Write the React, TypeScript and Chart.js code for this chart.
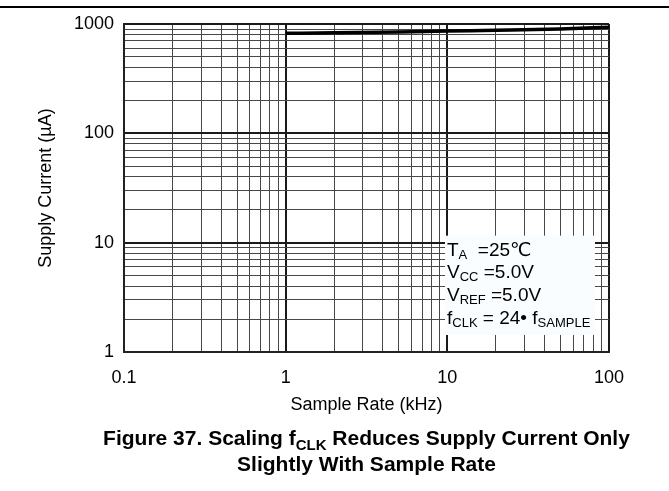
import React, { useEffect, useRef } from 'react';
import { Chart, registerables } from 'chart.js';

Chart.register(...registerables);

// ---- data ----
const sampleRateKHz = [1, 2, 5, 10, 20, 50, 100];
const supplyCurrentUA = [822, 830, 845, 862, 876, 900, 935];

const xTickValues = [
  0.1, 0.2, 0.3, 0.4, 0.5, 0.6, 0.7, 0.8, 0.9,
  1, 2, 3, 4, 5, 6, 7, 8, 9,
  10, 20, 30, 40, 50, 60, 70, 80, 90,
  100,
];
const yTickValues = [
  1, 2, 3, 4, 5, 6, 7, 8, 9,
  10, 20, 30, 40, 50, 60, 70, 80, 90,
  100, 200, 300, 400, 500, 600, 700, 800, 900,
  1000,
];
const xTickLabels = ['0.1', '1', '10', '100'];
const yTickLabels = ['1', '10', '100', '1000'];

const xTitle = 'Sample Rate (kHz)';
const yTitle = 'Supply Current (µA)';

type Seg = { t: string; sub?: boolean };
const conditionLines: Seg[][] = [
  [{ t: 'T' }, { t: 'A', sub: true }, { t: '  =25℃' }],
  [{ t: 'V' }, { t: 'CC', sub: true }, { t: ' =5.0V' }],
  [{ t: 'V' }, { t: 'REF', sub: true }, { t: ' =5.0V' }],
  [{ t: 'f' }, { t: 'CLK', sub: true }, { t: ' = 24• f' }, { t: 'SAMPLE', sub: true }],
];
const captionLines: Seg[][] = [
  [{ t: 'Figure 37. Scaling f' }, { t: 'CLK', sub: true }, { t: ' Reduces Supply Current Only' }],
  [{ t: 'Slightly With Sample Rate' }],
];

const FONT = '"Liberation Sans", Arial, "DejaVu Sans", sans-serif';

const isDecade = (v: number | undefined) => {
  if (v === undefined || v <= 0) return false;
  const l = Math.log10(v);
  return Math.abs(l - Math.round(l)) < 1e-9;
};

function segWidth(ctx: CanvasRenderingContext2D, segs: Seg[], main: string, sub: string) {
  let w = 0;
  for (const s of segs) {
    ctx.font = s.sub ? sub : main;
    w += ctx.measureText(s.t).width;
  }
  return w;
}
function drawSegs(ctx: CanvasRenderingContext2D, segs: Seg[], x: number, y: number, main: string, sub: string, subDy: number) {
  let cx = x;
  for (const s of segs) {
    ctx.font = s.sub ? sub : main;
    ctx.fillText(s.t, cx, s.sub ? y + subDy : y);
    cx += ctx.measureText(s.t).width;
  }
}

const extrasPlugin = {
  id: 'extras',
  afterDraw(chart: any) {
    const ctx: CanvasRenderingContext2D = chart.ctx;
    const area = chart.chartArea;
    ctx.save();
    // top rule
    ctx.fillStyle = '#000';
    ctx.fillRect(0, 6, chart.width, 2);

    // conditions box
    const bx = area.right - 164;
    const by = chart.scales.y.getPixelForValue(10) - 7;
    const bw = 150;
    const bh = area.bottom - 17 - by;
    ctx.fillStyle = '#fafdff';
    ctx.fillRect(bx, by, bw, bh);
    ctx.fillStyle = '#000';
    ctx.textBaseline = 'alphabetic';
    ctx.textAlign = 'left';
    conditionLines.forEach((line, i) => {
      drawSegs(ctx, line, bx + 2, by + 20 + i * 22.7, `19px ${FONT}`, `13px ${FONT}`, 3);
    });

    // caption
    const cx = (area.left + area.right) / 2;
    const baselines = [445, 471];
    captionLines.forEach((line, i) => {
      const main = `bold 21px ${FONT}`;
      const sub = `bold 15px ${FONT}`;
      const w = segWidth(ctx, line, main, sub);
      drawSegs(ctx, line, cx - w / 2, baselines[i], main, sub, 5);
    });
    ctx.restore();
  },
};

export default function App() {
  const ref = useRef<HTMLCanvasElement>(null);
  useEffect(() => {
    if (!ref.current) return;
    const chart = new Chart(ref.current, {
      type: 'line',
      data: {
        datasets: [
          {
            data: sampleRateKHz.map((x, i) => ({ x, y: supplyCurrentUA[i] })),
            borderColor: '#000',
            borderWidth: 3.5,
            pointRadius: 0,
            cubicInterpolationMode: 'monotone',
            fill: false,
          },
        ],
      },
      options: {
        animation: false,
        responsive: false,
        devicePixelRatio: 1,
        layout: { padding: { top: 24, left: 0, right: 60, bottom: 0 } },
        plugins: { legend: { display: false }, tooltip: { enabled: false } },
        scales: {
          x: {
            type: 'logarithmic',
            min: 0.1,
            max: 100,
            afterBuildTicks: (s: any) => {
              s.ticks = xTickValues.map((v) => ({ value: v }));
            },
            afterFit: (s: any) => {
              s.height = 139;
            },
            ticks: {
              autoSkip: false,
              maxRotation: 0,
              padding: 15,
              color: '#000',
              font: { family: FONT, size: 18 },
              callback: (v: any) => {
                const i = [0.1, 1, 10, 100].findIndex((d) => Math.abs(d - v) < 1e-9);
                return i >= 0 ? xTickLabels[i] : '';
              },
            },
            grid: {
              drawTicks: false,
              color: (c: any) => (isDecade(c.tick?.value) ? '#1a1a1a' : '#484848'),
              lineWidth: (c: any) => (isDecade(c.tick?.value) ? 2 : 1),
            },
            border: { display: true, color: '#222', width: 2 },
            title: {
              display: true,
              text: xTitle,
              color: '#000',
              font: { family: FONT, size: 18 },
              padding: { top: 0, bottom: 75 },
            },
          },
          y: {
            type: 'logarithmic',
            min: 1,
            max: 1000,
            afterBuildTicks: (s: any) => {
              s.ticks = yTickValues.map((v) => ({ value: v }));
            },
            afterFit: (s: any) => {
              s.width = 124;
            },
            ticks: {
              autoSkip: false,
              padding: 10,
              color: '#000',
              font: { family: FONT, size: 18 },
              callback: (v: any) => {
                const i = [1, 10, 100, 1000].findIndex((d) => Math.abs(d - v) < 1e-9);
                return i >= 0 ? yTickLabels[i] : '';
              },
            },
            grid: {
              drawTicks: false,
              color: (c: any) => (isDecade(c.tick?.value) ? '#1a1a1a' : '#484848'),
              lineWidth: (c: any) => (isDecade(c.tick?.value) ? 2 : 1),
            },
            border: { display: true, color: '#222', width: 2 },
            title: {
              display: true,
              text: yTitle,
              color: '#000',
              font: { family: FONT, size: 18 },
              padding: { top: 35, bottom: 0 },
            },
          },
        },
      },
      plugins: [extrasPlugin],
    } as any);
    return () => chart.destroy();
  }, []);
  return (
    <div style={{ position: 'fixed', left: 0, top: 0, width: 669, height: 491, background: '#fff' }}>
      <canvas ref={ref} width={669} height={491} style={{ width: 669, height: 491, display: 'block' }} />
    </div>
  );
}
